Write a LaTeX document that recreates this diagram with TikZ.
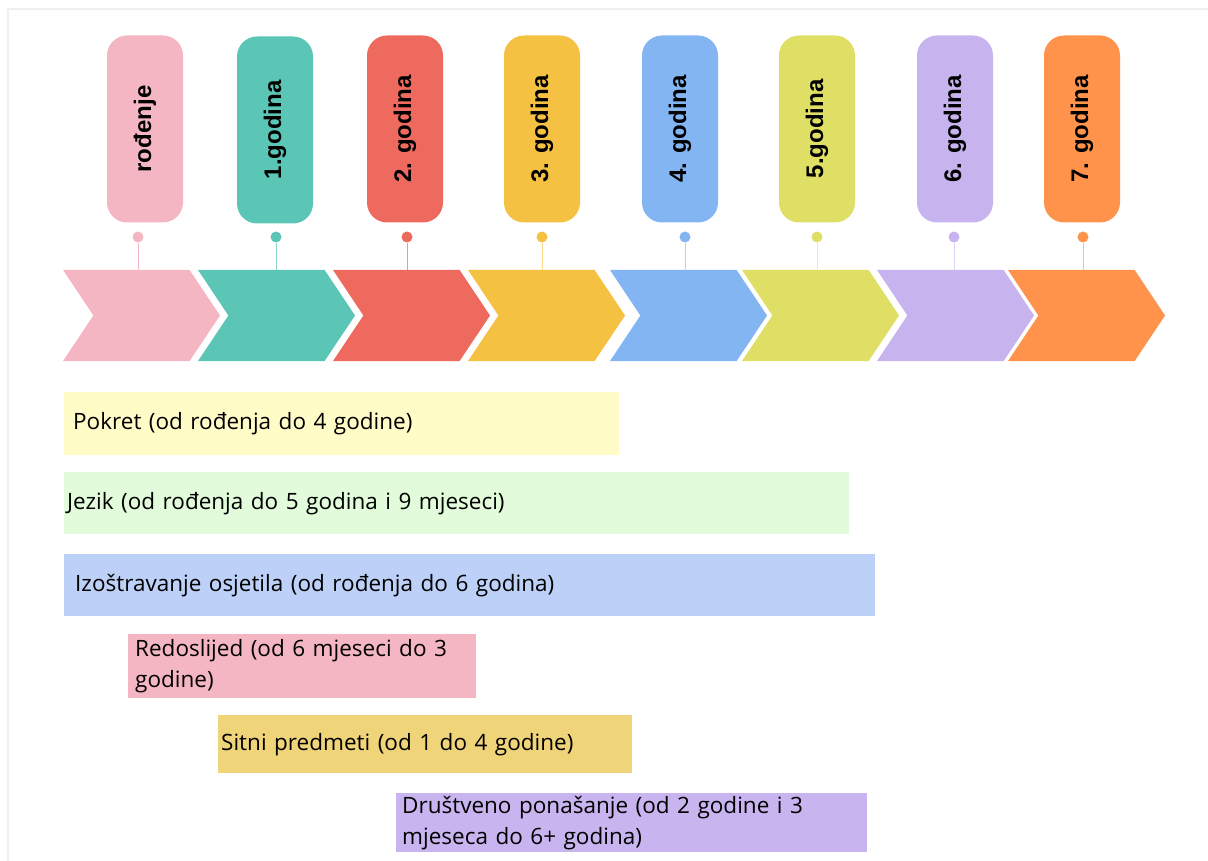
\documentclass[tikz,border=0pt]{standalone}
\usepackage{fontspec}
\setmainfont{Open Sans}
\newfontfamily\tagfont{Liberation Sans}
\usepackage{xcolor}
\usetikzlibrary{positioning, shapes.symbols}

\definecolor{pinkc}{HTML}{F4B6C2}
\definecolor{tealc}{HTML}{5BC5B6}
\definecolor{redc}{HTML}{EE6A5E}
\definecolor{yellowc}{HTML}{F5C143}
\definecolor{bluec}{HTML}{84B5F3}
\definecolor{limec}{HTML}{DFDF66}
\definecolor{lilacc}{HTML}{C7B3ED}
\definecolor{orangec}{HTML}{FF934C}
\definecolor{pokretc}{HTML}{FFFCC8}
\definecolor{jezikc}{HTML}{E1FBDB}
\definecolor{osjetc}{HTML}{BDD0F7}
\definecolor{redoc}{HTML}{F4B6C2}
\definecolor{sitnic}{HTML}{EFD479}
\definecolor{drustc}{HTML}{C8B4EE}
\definecolor{framec}{HTML}{EFEFEF}

\begin{document}
\begin{tikzpicture}[
    x=1pt, y=-1pt,
    tag/.style={rectangle, rounded corners=20pt, rotate=90, minimum width=187pt, minimum height=76pt, inner sep=0pt, font=\tagfont\bfseries\fontsize{24}{28}\selectfont},
    dot/.style={circle, inner sep=0pt, minimum size=11pt},
    chev/.style={signal, signal from=west, signal to=east, signal pointer angle=112.6, minimum width=157pt, minimum height=91pt, inner sep=0pt},
    pin/.style={line width=0.8pt},
    bar/.style={rectangle, anchor=north west, inner ysep=0pt, align=left, font=\fontsize{22.5}{31}\selectfont}
]
    \useasboundingbox (0,0) rectangle (1208,861);
    \draw[framec, line width=2pt] (8,861) -- (8,9) -- (1208,9);

    % year tags
    \node[tag, fill=pinkc] (t0) at (145,129) {rođenje};
    \node[tag, fill=tealc] (t1) at (275,130) {1.godina};
    \node[tag, fill=redc] (t2) at (405,129) {2. godina};
    \node[tag, fill=yellowc] (t3) at (542,129) {3. godina};
    \node[tag, fill=bluec] (t4) at (680,129) {4. godina};
    \node[tag, fill=limec] (t5) at (817,129) {5.godina};
    \node[tag, fill=lilacc] (t6) at (955,129) {6. godina};
    \node[tag, fill=orangec] (t7) at (1082,129) {7. godina};

    % timeline
    \node[chev, fill=pinkc] (c0) at (141.5,315.5) {};
    \node[chev, fill=tealc] (c1) at (276.5,315.5) {};
    \node[chev, fill=redc] (c2) at (411.5,315.5) {};
    \node[chev, fill=yellowc] (c3) at (546.5,315.5) {};
    \node[chev, fill=bluec] (c4) at (688.5,315.5) {};
    \node[chev, fill=limec] (c5) at (820.5,315.5) {};
    \node[chev, fill=lilacc] (c6) at (955.5,315.5) {};
    \node[chev, fill=orangec] (c7) at (1086.5,315.5) {};

    \node[dot, fill=pinkc] (d0) at (138,237) {};
    \node[dot, fill=tealc] (d1) at (276,237) {};
    \node[dot, fill=redc] (d2) at (407,237) {};
    \node[dot, fill=yellowc] (d3) at (542,237) {};
    \node[dot, fill=bluec] (d4) at (685,237) {};
    \node[dot, fill=limec] (d5) at (817,237) {};
    \node[dot, fill=lilacc] (d6) at (954,237) {};
    \node[dot, fill=orangec] (d7) at (1083,237) {};

    \draw[pin, pinkc] (d0) -- (d0 |- c0.north);
    \draw[pin, tealc!70] (d1) -- (d1 |- c1.north);
    \draw[pin, redc!70] (d2) -- (d2 |- c2.north);
    \draw[pin, yellowc!60] (d3) -- (d3 |- c3.north);
    \draw[pin, bluec!60] (d4) -- (d4 |- c4.north);
    \draw[pin, limec!60] (d5) -- (d5 |- c5.north);
    \draw[pin, lilacc!60] (d6) -- (d6 |- c6.north);
    \draw[pin, orangec!60] (d7) -- (d7 |- c7.north);

    % sensitive periods
    \node[bar, fill=pokretc, inner xsep=9pt, text width=537pt, minimum height=63pt] (b1) at (64,392) {Pokret (od rođenja do 4 godine)};
    \node[bar, fill=jezikc, inner xsep=3pt, text width=779pt, minimum height=62pt] (b2) at (64,472) {Jezik (od rođenja do 5 godina i 9 mjeseci)};
    \node[bar, fill=osjetc, inner xsep=11pt, text width=789pt, minimum height=62pt] (b3) at (64,554) {Izoštravanje osjetila (od rođenja do 6 godina)};
    \node[bar, fill=redoc, inner xsep=7pt, text width=334pt, minimum height=64pt] (b4) at (128,634) {Redoslijed (od 6 mjeseci do 3\\godine)};
    \node[bar, fill=sitnic, inner xsep=3pt, text width=408pt, minimum height=58pt] (b5) at (218,715) {Sitni predmeti (od 1 do 4 godine)};
    \node[bar, fill=drustc, inner xsep=6pt, text width=459pt, minimum height=59pt] (b6) at (396,793) {Društveno ponašanje (od 2 godine i 3\\mjeseca do 6+ godina)};
\end{tikzpicture}
\end{document}
